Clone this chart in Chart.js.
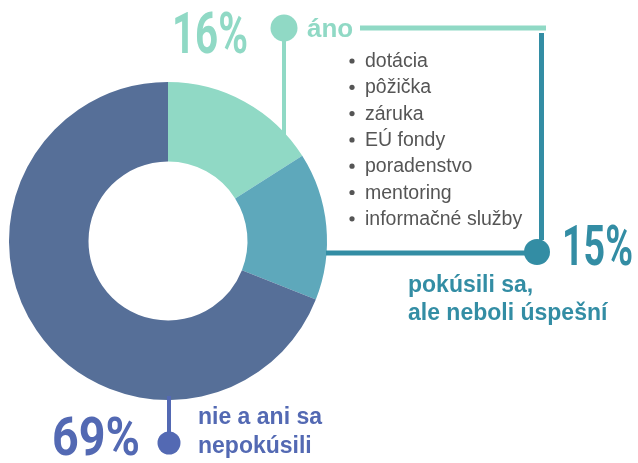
<!DOCTYPE html>
<html lang="sk">
<head>
    <meta charset="UTF-8">
    <title>Podpora podnikania</title>
    <script src="https://cdn.jsdelivr.net/npm/chart.js"></script>
    <style>
        body {
            margin: 0;
            background: #ffffff;
        }
        #donut {
            display: block;
        }
    </style>
</head>
<body>
    <canvas id="donut" width="638" height="463"></canvas>

    <script>
        // údaje z grafu
        const categories = ['áno', 'pokúsili sa, ale neboli úspešní', 'nie a ani sa nepokúsili'];
        const shares = [16, 15, 69];
        const supportTypes = ['dotácia', 'pôžička', 'záruka', 'EÚ fondy', 'poradenstvo', 'mentoring', 'informačné služby'];

        const sliceColors = ['#90d9c5', '#5ea8bb', '#566f98'];
        const accentColors = ['#90d9c5', '#338da4', '#5369b3'];

        // percentuálne číslo, zúžené na danú šírku
        function drawPct(ctx, text, x, y, size, width, color) {
            ctx.save();
            ctx.font = 'bold ' + size + 'px Roboto';
            const w = ctx.measureText(text).width;
            ctx.translate(x, y);
            ctx.scale(width / w, 1);
            ctx.fillStyle = color;
            ctx.textBaseline = 'alphabetic';
            ctx.fillText(text, 0, 0);
            ctx.restore();
        }

        function line(ctx, x1, y1, x2, y2, color, w) {
            ctx.beginPath();
            ctx.moveTo(x1, y1);
            ctx.lineTo(x2, y2);
            ctx.strokeStyle = color;
            ctx.lineWidth = w;
            ctx.stroke();
        }

        function dot(ctx, x, y, r, color) {
            ctx.beginPath();
            ctx.arc(x, y, r, 0, Math.PI * 2);
            ctx.fillStyle = color;
            ctx.fill();
        }

        const annotations = {
            id: 'annotations',
            afterDraw(chart) {
                const ctx = chart.ctx;
                ctx.save();

                // áno
                line(ctx, 284, 28, 284, 140, accentColors[0], 4);
                line(ctx, 360, 28, 546, 28, accentColors[0], 5);
                dot(ctx, 284, 28, 13.5, accentColors[0]);
                drawPct(ctx, shares[0] + '%', 172, 53, 57, 76, accentColors[0]);
                ctx.font = 'bold 26px "Liberation Sans", Arial, sans-serif';
                ctx.fillStyle = accentColors[0];
                ctx.fillText(categories[0], 307, 37);

                // zoznam foriem podpory
                ctx.font = '19.5px "Liberation Sans", Arial, sans-serif';
                supportTypes.forEach((t, i) => {
                    const y = 67 + i * 26.3;
                    dot(ctx, 352, y - 6, 2.6, '#555555');
                    ctx.fillStyle = '#555555';
                    ctx.fillText(t, 365, y);
                });

                // pokúsili sa
                line(ctx, 541.5, 33, 541.5, 240, accentColors[1], 5);
                line(ctx, 326, 253, 537, 253, accentColors[1], 5);
                dot(ctx, 537, 252, 13, accentColors[1]);
                drawPct(ctx, shares[1] + '%', 562, 265, 56, 71, accentColors[1]);
                ctx.font = 'bold 23px "Liberation Sans", Arial, sans-serif';
                ctx.fillStyle = accentColors[1];
                ctx.fillText('pokúsili sa,', 408, 292);
                ctx.fillText('ale neboli úspešní', 408, 320);

                // nie
                line(ctx, 169, 396, 169, 443, accentColors[2], 4);
                dot(ctx, 169, 443, 11.5, accentColors[2]);
                drawPct(ctx, shares[2] + '%', 52, 455, 53, 88, accentColors[2]);
                ctx.font = 'bold 23px "Liberation Sans", Arial, sans-serif';
                ctx.fillStyle = accentColors[2];
                ctx.fillText('nie a ani sa', 198, 424);
                ctx.fillText('nepokúsili', 198, 453);

                ctx.restore();
            }
        };

        new Chart(document.getElementById('donut').getContext('2d'), {
            type: 'doughnut',
            data: {
                labels: categories,
                datasets: [{
                    data: shares,
                    backgroundColor: sliceColors,
                    borderWidth: 0
                }]
            },
            options: {
                responsive: false,
                animation: false,
                cutout: '50%',
                layout: {
                    padding: { left: 9, top: 82, right: 311, bottom: 63 }
                },
                plugins: {
                    legend: { display: false },
                    tooltip: { enabled: false }
                }
            },
            plugins: [annotations]
        });
    </script>
</body>
</html>
